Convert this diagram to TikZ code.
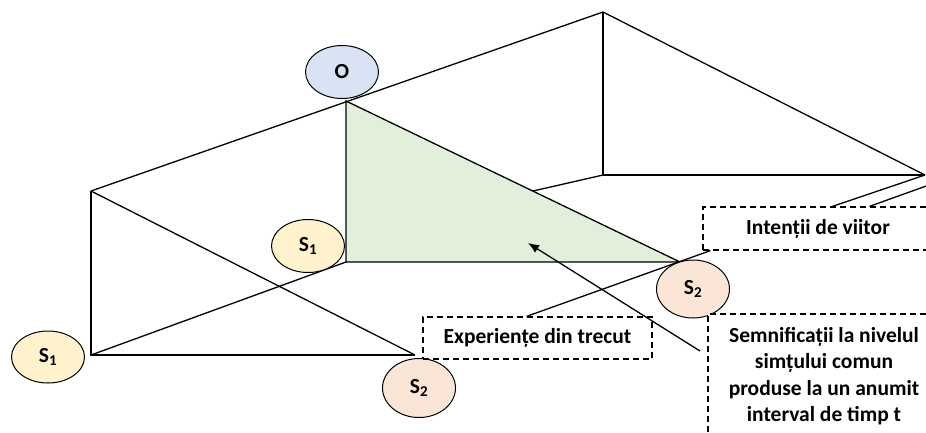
\documentclass[tikz,border=0pt]{standalone}
\usepackage{fontspec}
\setmainfont{Carlito}
\usetikzlibrary{arrows.meta,positioning,shapes.geometric}
\definecolor{ofill}{HTML}{DAE3F3}
\definecolor{sonefill}{HTML}{FFF2CC}
\definecolor{stwofill}{HTML}{FBE5D6}
\definecolor{planefill}{HTML}{E2EFDA}

\begin{document}
\begin{tikzpicture}[x=1pt, y=-1pt, >=Latex, line width=1.3pt,
  every node/.style={align=center, font=\bfseries\fontsize{21.5}{26.5}\selectfont},
  oval/.style={draw, ellipse, line width=1pt, minimum width=73pt, minimum height=53pt, inner sep=0pt},
  dbox/.style={draw, fill=white, dash pattern=on 6pt off 4pt, line width=1.2pt, inner sep=0pt}]
\useasboundingbox (0,0) rectangle (926,432);
% corners of the prism
\coordinate (lt) at (91,191); \coordinate (lb) at (91,355); \coordinate (rb) at (415,355);
\coordinate (apex) at (346,101); \coordinate (bt) at (603,12); \coordinate (bb) at (603,175);
\coordinate (br) at (925,175); \coordinate (hid) at (533,191);
\coordinate (gl) at (346,262); \coordinate (gr) at (680,262);
% green plane
\fill[planefill] (apex) -- (gl) -- (gr) -- cycle;
\draw (apex) -- (gl) -- (gr) -- cycle;
\draw (lt) -- (bt); \draw (bt) -- (bb); \draw (bb) -- (br); \draw (bt) -- (br); \draw (bb) -- (hid);
\draw (lt) -- (lb) -- (rb); \draw (lt) -- (rb); \draw (lb) -- (gl);
% ovals
\node[oval,fill=ofill] (o) at (342,72) {O};
\node[oval,fill=sonefill,minimum height=52pt] (s1a) at (48,357) {S\textsubscript{1}};
\node[oval,fill=sonefill] (s1b) at (308,246) {S\textsubscript{1}};
\node[oval,fill=stwofill,minimum height=59pt] (s2a) at (419,388) {S\textsubscript{2}};
\node[oval,fill=stwofill,minimum height=58pt] (s2b) at (693,289) {S\textsubscript{2}};
% dashed boxes
\node[dbox,minimum width=229pt,minimum height=42pt] (exp) at (537.5,338) {Experiențe din trecut};
\node[dbox,minimum width=230pt,minimum height=43pt] (int) at (818,228.5) {Intenții de viitor};
\node[dbox,minimum width=232pt,minimum height=124pt] (sem) at (824,376) {Semnificații la nivelul\\simțului comun\\produse la un anumit\\interval de timp t};
% connectors
\coordinate (far) at (929,185);
\draw ([xshift=-11pt]exp.north) -- ([xshift=8pt]int.south west);
\draw ([xshift=130pt]int.north west) -- (br);
\draw ([xshift=167pt]int.north west) -- (far);
\coordinate (tail) at (700,351); \coordinate (tip) at (528,243);
\draw[-{Latex[length=11pt,width=9pt]}] (tail) -- (tip);
\end{tikzpicture}
\end{document}
